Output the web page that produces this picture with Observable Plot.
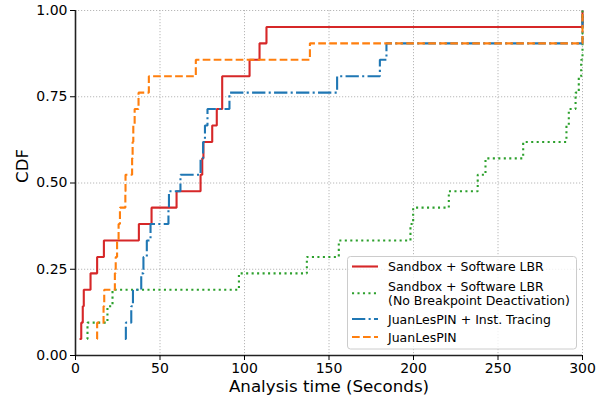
<!DOCTYPE html>
<html><head><meta charset="utf-8">
<script src="https://cdn.jsdelivr.net/npm/d3@7"></script>
<script src="https://cdn.jsdelivr.net/npm/@observablehq/plot@0.6"></script>
<style>
html,body{margin:0;padding:0;background:#fff;}
#wrap{position:relative;width:602px;height:399px;font-family:"DejaVu Sans",sans-serif;}
#legend{position:absolute;left:0;top:0;pointer-events:none;}
</style></head><body><div id="wrap"></div>
<script>
// Analysis times (seconds) per sample, 21 samples each; timeouts recorded at 300
const seriesNames = ["Sandbox + Software LBR", "Sandbox + Software LBR|(No Breakpoint Deactivation)", "JuanLesPIN + Inst. Tracing", "JuanLesPIN"];
const sandboxLBR = [2.4, 3.4, 4.3, 4.9, 8.9, 12.8, 16.8, 37.5, 45.0, 59.8, 74.0, 75.0, 75.7, 80.9, 83.6, 86.8, 86.8, 103.0, 108.9, 113.0, 300];
const sandboxNoDeact = [6.9, 7.1, 18.9, 21.9, 96.7, 136.9, 155.8, 198.2, 199.8, 220.9, 238.0, 242.6, 264.9, 290.5, 291.9, 295.9, 297.8, 299.2, 300, 300, 300];
const juanInst = [29.2, 29.8, 33.0, 34.0, 38.9, 40.2, 42.2, 44.4, 55.0, 55.3, 62.1, 74.0, 75.5, 76.6, 78.1, 91.1, 154.8, 180.1, 184.0, 300, 300];
const juan = [12.7, 12.8, 16.6, 17.0, 23.3, 23.8, 24.6, 25.5, 26.3, 29.5, 29.6, 33.5, 33.8, 34.2, 35.0, 37.3, 43.4, 71.2, 138.7, 300, 300];
const xTicks = [0, 50, 100, 150, 200, 250, 300];
const yTicks = [0, 0.25, 0.5, 0.75, 1];
const colors = ["#d62728", "#2ca02c", "#1f77b4", "#ff7f0e"];
const dashes = [null, "2.08,3.4", "13.3,3.3,2.08,3.3", "7.7,3.3"];

function cdf(times, name) {
  const n = times.length;
  return times.slice().sort((a, b) => a - b).map((t, i) => ({t, p: (i + 1) / n, name}));
}
const allSeries = [sandboxLBR, sandboxNoDeact, juanInst, juan];

const lineMarks = allSeries.map((s, i) => Plot.line(cdf(s, seriesNames[i]), {
  x: "t", y: "p", curve: "step-after", stroke: colors[i], strokeWidth: 2.1,
  strokeDasharray: dashes[i] || undefined, strokeLinecap: "butt", strokeLinejoin: "miter"
}));

const plot = Plot.plot({
  width: 602, height: 399,
  marginLeft: 75, marginRight: 20, marginTop: 10, marginBottom: 44,
  style: {fontFamily: '"DejaVu Sans", sans-serif', fontSize: "14px", color: "#000", background: "#fff"},
  x: {domain: [0, 300]},
  y: {domain: [0, 1]},
  marks: [
    Plot.gridX(xTicks, {stroke: "#b0b0b0", strokeOpacity: 1, strokeDasharray: "1.2,1.8", strokeWidth: 0.9}),
    Plot.gridY(yTicks, {stroke: "#b0b0b0", strokeOpacity: 1, strokeDasharray: "1.2,1.8", strokeWidth: 0.9}),
    ...lineMarks,
    Plot.ruleX([0], {stroke: "#222", strokeWidth: 1.6}),
    Plot.ruleY([0], {stroke: "#222", strokeWidth: 1.6}),
    Plot.axisX(xTicks, {tickSize: 5, tickPadding: 3, label: null, fontSize: 14}),
    Plot.axisY(yTicks, {tickSize: 5, tickPadding: 3, label: null, fontSize: 14, tickFormat: d3.format(".2f")}),
    Plot.text(["Analysis time (Seconds)"], {text: d => d, frameAnchor: "bottom", dy: 36, fontSize: 16.7}),
    Plot.text(["CDF"], {text: d => d, frameAnchor: "left", dx: -53, rotate: -90, fontSize: 16.7})
  ]
});
const wrap = document.getElementById("wrap");
wrap.appendChild(plot);

// Legend overlay (matplotlib-style, lower right)
const ns = "http://www.w3.org/2000/svg";
const lg = document.createElementNS(ns, "svg");
lg.setAttribute("id", "legend");
lg.setAttribute("width", 602); lg.setAttribute("height", 399);
const box = document.createElementNS(ns, "rect");
Object.entries({x: 347.5, y: 256.5, width: 229, height: 92.5, rx: 3, fill: "#fff", "fill-opacity": 0.8, stroke: "#cccccc", "stroke-width": 1}).forEach(([k, v]) => box.setAttribute(k, v));
lg.appendChild(box);
const rowsY = [[266.5], [286, 300.5], [319], [337]];
seriesNames.forEach((name, i) => {
  const lines = name.split("|");
  const ys = rowsY[i];
  const ly = ys.reduce((a, b) => a + b, 0) / ys.length;
  const ln = document.createElementNS(ns, "line");
  Object.entries({x1: 352, x2: 378, y1: ly, y2: ly, stroke: colors[i], "stroke-width": 2.1, "stroke-linecap": "butt"}).forEach(([k, v]) => ln.setAttribute(k, v));
  if (dashes[i]) ln.setAttribute("stroke-dasharray", dashes[i]);
  lg.appendChild(ln);
  lines.forEach((t, j) => {
    const tx = document.createElementNS(ns, "text");
    tx.setAttribute("x", 388); tx.setAttribute("y", ys[j]);
    tx.setAttribute("dominant-baseline", "central");
    tx.setAttribute("font-family", '"DejaVu Sans", sans-serif');
    tx.setAttribute("font-size", 12.5);
    tx.setAttribute("fill", "#000");
    tx.textContent = t;
    lg.appendChild(tx);
  });
});
wrap.appendChild(lg);
</script>
</body></html>
